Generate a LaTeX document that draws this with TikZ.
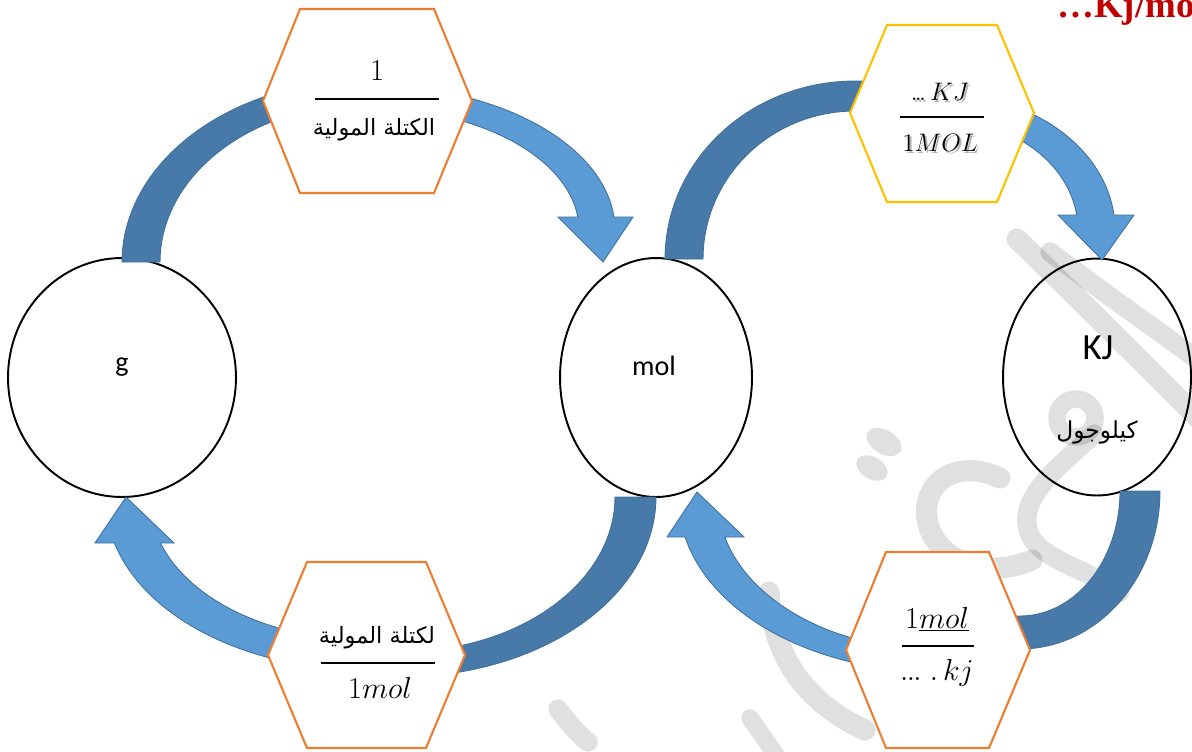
\documentclass[tikz,border=0pt]{standalone}
\usepackage{fontspec}
\setmainfont{Carlito}
\newfontfamily\arabicfont[Script=Arabic]{DejaVu Sans}
\newfontfamily\timesfont{Liberation Serif}
\TeXXeTstate=1
\usetikzlibrary{shapes.geometric}
\definecolor{hexorange}{HTML}{ED7D31}
\definecolor{hexyellow}{HTML}{FFC000}
\definecolor{arrowlight}{HTML}{5B9BD5}
\definecolor{arrowdark}{RGB}{71,122,168}
\definecolor{arrowedge}{HTML}{41719C}
\definecolor{titlered}{HTML}{C00000}
\tikzset{
  roundnode/.style={draw=black, line width=1.1pt, ellipse, inner sep=0pt},
  hexorangestyle/.style={fill=white, draw=hexorange, line width=1.2pt},
  hexyellowstyle/.style={fill=white, draw=hexyellow, line width=1.2pt},
  darkband/.style={fill=arrowdark, draw=arrowedge, line width=0.5pt},
  lightband/.style={fill=arrowlight, draw=arrowedge, line width=0.5pt},
  fracbar/.style={line width=1.5pt},
  bigmath/.style={font=\fontsize{17}{20}\selectfont, inner sep=0pt},
  midmath/.style={font=\fontsize{14.5}{17}\selectfont, inner sep=0pt},
  artext/.style={font=\arabicfont\fontsize{12.8}{15}\selectfont, inner sep=0pt},
  wmark/.style={draw=black, draw opacity=0.12, line cap=round, line join=round},
  wmfill/.style={fill=black, fill opacity=0.12},
}
\begin{document}
\begin{tikzpicture}[x=0.02cm, y=-0.02cm]
\useasboundingbox (0,0) rectangle (1192,751);
\clip (0,0) rectangle (1192,751);
\fill[white] (0,0) rectangle (1192,751);

% watermark (calligraphy, approximate)
\draw[wmark, line width=12pt] (1017,239) .. controls (1075,295) and (1135,355) .. (1198,418);
\draw[wmark, line width=11pt] (1050,252) .. controls (1100,290) and (1150,325) .. (1198,360);
\draw[wmark, line width=10pt] (1076,418) circle [radius=19];
\draw[wmark, line width=11pt] (1094,434) .. controls (1055,470) and (1015,500) .. (1030,535) .. controls (1042,560) and (1085,568) .. (1120,592);
\draw[wmark, line width=12pt] (1000,478) .. controls (950,455) and (915,490) .. (930,530) .. controls (945,565) and (990,578) .. (1032,560);
\fill[wmfill, rotate around={-30:(884,442)}] (884,442) ellipse [x radius=19, y radius=12];
\fill[wmfill, rotate around={-30:(872,468)}] (872,468) ellipse [x radius=17, y radius=11];
\draw[wmark, line width=12pt] (769,592) .. controls (772,650) and (800,700) .. (865,730);
\draw[wmark, line width=10pt] (750,718) -- (776,755);
\draw[wmark, line width=11pt] (558,709) .. controls (566,720) and (578,734) .. (588,742);

% circles
\node[roundnode, minimum width=4.56cm, minimum height=4.78cm] (gc) at (122,377.5) {};
\node[roundnode, minimum width=3.84cm, minimum height=4.78cm] (molc) at (656,377.5) {};
\node[roundnode, minimum width=3.76cm, minimum height=4.74cm] (kjc) at (1097,377) {};

% top-left curved arrow (g -> mol)
\filldraw[darkband] plot[domain=180:270, samples=40] ({367+245*cos(\x)},{262+182*sin(\x)})
  -- plot[domain=270:180, samples=40] ({367+207*cos(\x)},{262+158*sin(\x)}) -- cycle;
\filldraw[lightband] plot[domain=270:354.86, samples=40] ({367+248*cos(\x)},{230+145*sin(\x)})
  -- (633,217) -- (603,262) -- (558,217)
  -- plot[domain=353.88:270, samples=40] ({367+212*cos(\x)},{230+122*sin(\x)}) -- cycle;

% top-right curved arrow (mol -> KJ)
\filldraw[darkband] plot[domain=180:270, samples=40] ({855+190*cos(\x)},{259+178*sin(\x)})
  -- (942,81) -- (942,111)
  -- plot[domain=270:180, samples=40] ({855+152*cos(\x)},{259+148*sin(\x)}) -- cycle;
\filldraw[lightband] plot[domain=270:353.67, samples=40] ({942+173*cos(\x)},{230+136*sin(\x)})
  -- (1134,215) -- (1102,260) -- (1058,215)
  -- plot[domain=352.16:270, samples=40] ({942+136*cos(\x)},{230+110*sin(\x)}) -- cycle;

% bottom-left curved arrow (mol -> g)
\filldraw[darkband] plot[domain=0:90, samples=40] ({400+256*cos(\x)},{497+180*sin(\x)})
  -- (366,677) -- (366,652)
  -- plot[domain=90:0, samples=40] ({400+215*cos(\x)},{497+155*sin(\x)}) -- cycle;
\filldraw[lightband] plot[domain=90:165.35, samples=40] ({366+260*cos(\x)},{500+170*sin(\x)})
  -- (95,543) -- (126,497) -- (174,543)
  -- plot[domain=162.12:90, samples=40] ({366+216*cos(\x)},{500+140*sin(\x)}) -- cycle;

% bottom-right curved arrow (KJ -> mol)
\filldraw[darkband] plot[domain=0:90, samples=40] ({1020+140*cos(\x)},{491+158*sin(\x)})
  -- (938,649) -- (938,616)
  -- plot[domain=90:0, samples=40] ({1020+100*cos(\x)},{491+125*sin(\x)}) -- cycle;
\filldraw[lightband] plot[domain=90:167.58, samples=40] ({938+259*cos(\x)},{500+172*sin(\x)})
  -- (667,537) -- (697,492) -- (744,537)
  -- plot[domain=165.72:90, samples=40] ({938+220*cos(\x)},{500+150*sin(\x)}) -- cycle;

% hexagons
\filldraw[hexorangestyle] (263,101) -- (300,9) -- (434,9) -- (472,101) -- (434,193) -- (300,193) -- cycle;
\filldraw[hexyellowstyle] (850,113) -- (887,25) -- (997,25) -- (1034,113) -- (997,202) -- (887,202) -- cycle;
\filldraw[hexorangestyle] (268,655) -- (307,562) -- (426,562) -- (465,655) -- (426,748) -- (307,748) -- cycle;
\filldraw[hexorangestyle] (846,650) -- (886,552) -- (989,552) -- (1030,650) -- (989,748) -- (886,748) -- cycle;

% circle texts
\node[font=\fontsize{16}{19}\selectfont] (gt) at (122,367) {g};
\node[font=\fontsize{16}{19}\selectfont] (molt) at (654,366) {mol};
\node[font=\fontsize{21}{25}\selectfont] (kjt) at (1098,348) {KJ};
\node[artext, font=\arabicfont\fontsize{13.3}{16}\selectfont] (kjar) at (1097,432) {\beginR كيلوجول\endR};

% top-left hexagon text
\node[bigmath, anchor=base] (tlnum) at (377,80) {$1$};
\draw[fracbar] (315,99) -- (439,99);
\node[artext, anchor=base] (tlden) at (374,135) {\beginR الكتلة المولية\endR};

% top-right hexagon text (with soft shadow)
\node[midmath, anchor=base, text=black!30] (trnums) at (942,102) {$.\mkern-2mu.\mkern-2mu.\,KJ$};
\node[midmath, anchor=base] (trnum) at (940,100) {$.\mkern-2mu.\mkern-2mu.\,KJ$};
\draw[fracbar] (900,117) -- (984,117);
\node[midmath, anchor=base, text=black!30] (trdens) at (942,153) {$1MOL$};
\node[midmath, anchor=base] (trden) at (940,151) {$1MOL$};

% bottom-left hexagon text
\node[artext, anchor=base] (blnum) at (377,643) {\beginR لكتلة المولية\endR};
\draw[fracbar] (321,663) -- (435,663);
\node[bigmath, anchor=base] (blden) at (380,698) {$1mol$};

% bottom-right hexagon text
\node[bigmath, anchor=base] (brnum) at (937,628) {$1\underline{mol}$};
\draw[fracbar] (902,646) -- (974,646);
\node[bigmath, anchor=base] (brden) at (937,680) {$.\mkern-1mu.\mkern-1mu.\;.\,kj$};

% title fragment
\node[anchor=base west, inner sep=0pt, text=titlered, font=\timesfont\bfseries\fontsize{21}{24}\selectfont] (title) at (1057,17) {…Kj/mol};
\end{tikzpicture}
\end{document}
